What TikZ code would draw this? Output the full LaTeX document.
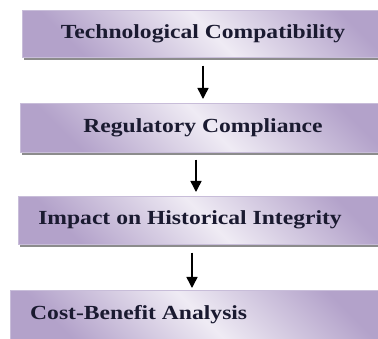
\documentclass[tikz,border=0pt]{standalone}
\usepackage{fontspec}
\setmainfont{Liberation Serif}
\newfontfamily\boxfont[FakeStretch=1.18]{Liberation Serif}
\usepackage{tikz}
\usetikzlibrary{arrows.meta,shadows}
\definecolor{lav}{HTML}{B3A2CA}
\definecolor{lavlight}{HTML}{EFEBF4}
\definecolor{lavedge}{HTML}{C8BDD9}
\definecolor{txt}{HTML}{1A1A30}
\tikzset{
  box/.style={rectangle,draw=lavedge,line width=0.6pt,inner sep=0pt,anchor=north west,
    minimum width=380pt,minimum height=47pt,
    top color=lav,bottom color=lav,middle color=lavlight,shading angle=-45,
    drop shadow={shadow xshift=2pt,shadow yshift=-3pt,fill=black!45,opacity=1}},
  lbl/.style={text=txt,font=\boxfont\fontsize{20}{22}\selectfont\bfseries,inner sep=0pt},
  arr/.style={line width=1.5pt,-{Triangle[width=11pt,length=11pt]}}
}
\begin{document}
\begin{tikzpicture}[x=1pt,y=-1pt]
  \useasboundingbox (0,0) rectangle (378,339);
  \clip (0,0) rectangle (378,339);
  \node[box] (b1) at (22,10) {};
  \node[box,minimum height=49pt] (b2) at (20,103) {};
  \node[box,minimum height=48pt] (b3) at (18,196) {};
  \node[box,minimum height=50pt] (b4) at (10,290) {};
  \node[lbl] (t1) at (203,34) {Technological Compatibility};
  \node[lbl] (t2) at (203,128) {Regulatory Compliance};
  \node[lbl] (t3) at (190,220) {Impact on Historical Integrity};
  \node[lbl,anchor=west] (t4) at (30,315) {Cost-Benefit Analysis};
  \coordinate (a1) at (203,0);
  \coordinate (a2) at (196,0);
  \coordinate (a3) at (192,0);
  \draw[arr] ([yshift=-8pt]b1.south -| a1) -- ([yshift=4pt]b2.north -| a1);
  \draw[arr] ([yshift=-7pt]b2.south -| a2) -- ([yshift=4pt]b3.north -| a2);
  \draw[arr] ([yshift=-8pt]b3.south -| a3) -- ([yshift=2pt]b4.north -| a3);
\end{tikzpicture}
\end{document}
